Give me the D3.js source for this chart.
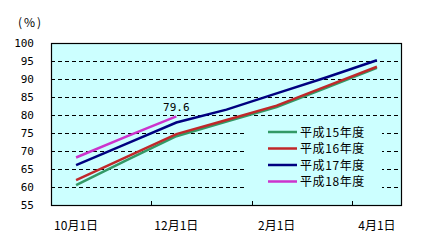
<!DOCTYPE html>
<html>
<head>
<meta charset="utf-8">
<script src="https://cdn.jsdelivr.net/npm/d3@7"></script>
<style>
  body { margin: 0; background: #fff; }
  text { font-family: "Noto Sans CJK JP", sans-serif; fill: #000; }
  .num { font-family: "DejaVu Sans Mono", monospace; }
</style>
</head>
<body>
<div id="chart"></div>
<script>
const months = ["10月1日", "11月1日", "12月1日", "1月1日", "2月1日", "3月1日", "4月1日"];
const shownLabels = ["10月1日", "12月1日", "2月1日", "4月1日"];
const yTicks = [55, 60, 65, 70, 75, 80, 85, 90, 95, 100];
const seriesNames = ["平成15年度", "平成16年度", "平成17年度", "平成18年度"];
const h15 = [60.5, 67.4, 74.1, 78.2, 82.2, 87.6, 93.1];
const h16 = [61.9, 68.3, 74.7, 78.6, 82.6, 88.0, 93.4];
const h17 = [66.1, 72.0, 77.9, 81.5, 86.0, 90.5, 95.2];
const h18 = [68.2, 74.0, 79.6];
const colors = ["#339966", "#c0282a", "#000080", "#cc33cc"];

const W = 439, H = 249;
const margin = { top: 43, right: 37, bottom: 44, left: 51 };
const width = W - margin.left - margin.right;
const height = H - margin.top - margin.bottom;

const svg = d3.select("#chart").append("svg")
    .attr("width", W)
    .attr("height", H);

const g = svg.append("g")
    .attr("transform", `translate(${margin.left},${margin.top})`);

const x = d3.scaleBand().domain(months).range([0, width]);
const y = d3.scaleLinear().domain([55, 100]).range([height, 0]);
const cx = m => x(m) + x.bandwidth() / 2;

// plot background
g.append("rect")
    .attr("width", width)
    .attr("height", height)
    .attr("fill", "#ccffff");

// grid lines
g.selectAll(".grid")
    .data(yTicks.filter(t => t > 55 && t < 100))
    .enter().append("line")
    .attr("x1", 0).attr("x2", width)
    .attr("y1", d => Math.round(y(d)) + 0.5)
    .attr("y2", d => Math.round(y(d)) + 0.5)
    .attr("stroke", "#000")
    .attr("stroke-width", 1)
    .attr("stroke-dasharray", "4,3");

// lines
const line = d3.line()
    .x((d, i) => cx(months[i]))
    .y(d => y(d));

[h15, h16, h17, h18].forEach((s, i) => {
    g.append("path")
        .datum(s)
        .attr("fill", "none")
        .attr("stroke", colors[i])
        .attr("stroke-width", 2.5)
        .attr("d", line);
});

// data label
g.append("text")
    .attr("class", "num")
    .attr("x", cx(months[h18.length - 1]))
    .attr("y", y(h18[h18.length - 1]) - 5)
    .attr("text-anchor", "middle")
    .style("font-size", "11px")
    .text(h18[h18.length - 1].toFixed(1));

// frame
g.append("rect")
    .attr("x", 0.5).attr("y", 0.5)
    .attr("width", width - 1)
    .attr("height", height)
    .attr("fill", "none")
    .attr("stroke", "#000")
    .attr("stroke-width", 1.2);

// x ticks (inside, every 2 categories)
g.selectAll(".xtick")
    .data(months.filter((m, i) => i % 2 === 1).map(m => x(m) + x.bandwidth()))
    .enter().append("line")
    .attr("x1", d => Math.round(d) + 0.5).attr("x2", d => Math.round(d) + 0.5)
    .attr("y1", height).attr("y2", height - 4)
    .attr("stroke", "#000");

// x labels
g.selectAll(".xlab")
    .data(shownLabels)
    .enter().append("text")
    .attr("x", d => cx(d))
    .attr("y", height + 25)
    .attr("text-anchor", "middle")
    .style("font-size", "12px")
    .text(d => d);

// y labels
g.selectAll(".ylab")
    .data(yTicks)
    .enter().append("text")
    .attr("class", "num")
    .attr("x", -17)
    .attr("y", d => y(d) + 4)
    .attr("text-anchor", "end")
    .style("font-size", "11px")
    .text(d => d);

svg.append("text")
    .attr("x", 18)
    .attr("y", 27)
    .style("font-size", "12px")
    .style("letter-spacing", "2px")
    .text("(%)");

// legend
const legend = g.append("g")
    .attr("transform", `translate(${247 - margin.left},${120 - margin.top})`);

legend.append("rect")
    .attr("width", 135)
    .attr("height", 74)
    .attr("fill", "#ccffff");

seriesNames.forEach((name, i) => {
    const yy = 12 + i * 16.5;
    legend.append("line")
        .attr("x1", 21).attr("x2", 50)
        .attr("y1", yy).attr("y2", yy)
        .attr("stroke", colors[i])
        .attr("stroke-width", 2.5);
    legend.append("text")
        .attr("x", 53)
        .attr("y", yy + 4.5)
        .style("font-size", "12px")
        .style("letter-spacing", "0.6px")
        .text(name);
});
</script>
</body>
</html>
